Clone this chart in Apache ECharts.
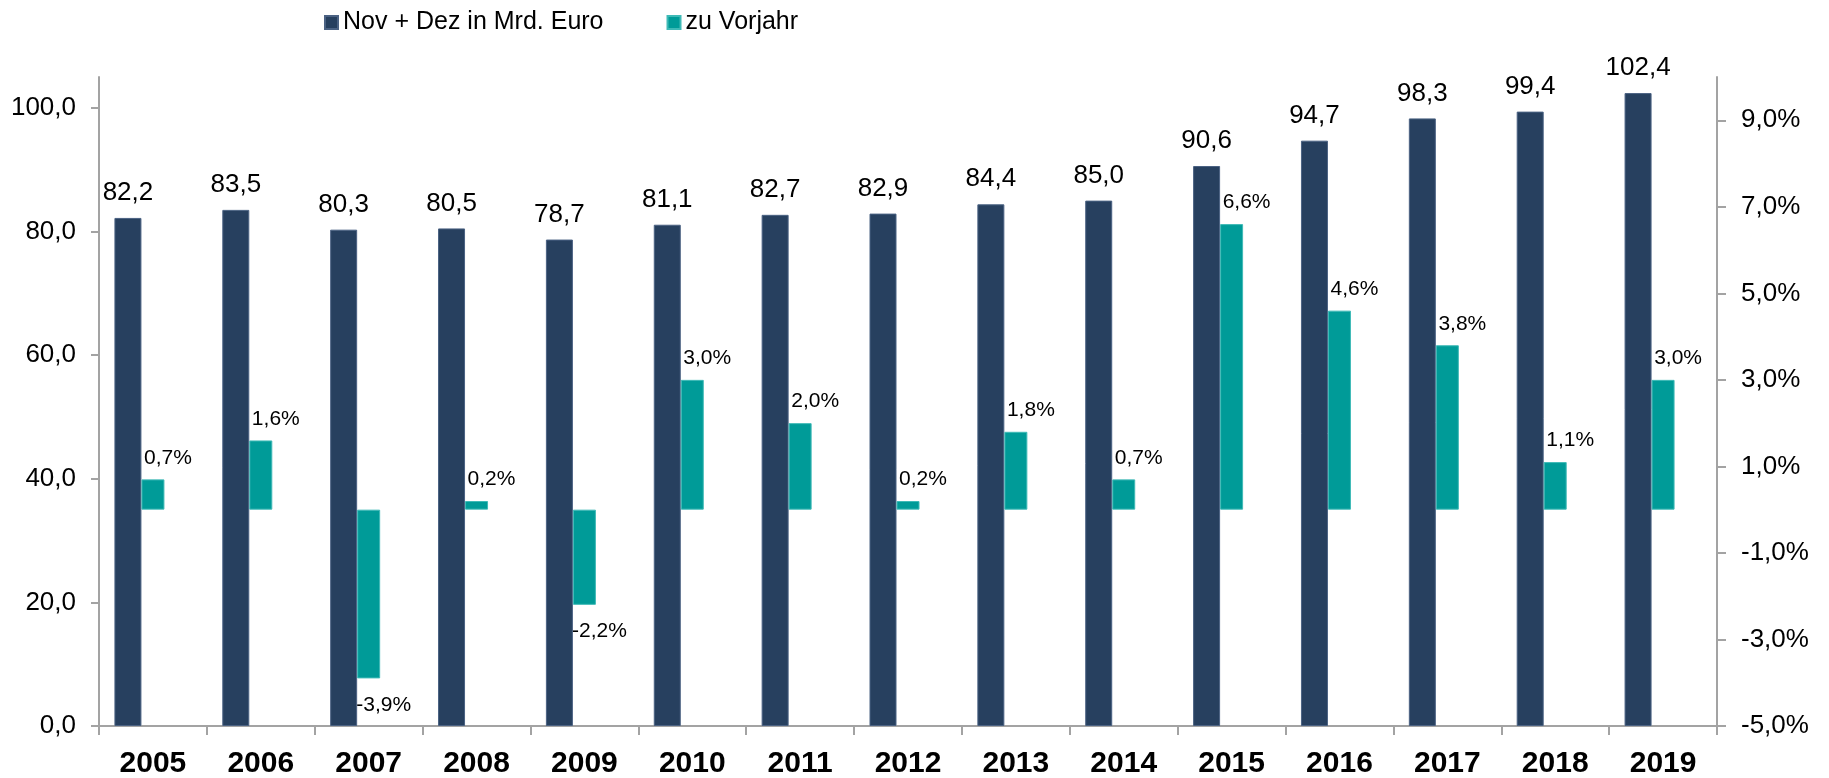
<!DOCTYPE html>
<html>
<head>
<meta charset="utf-8">
<script src="https://cdn.jsdelivr.net/npm/echarts@6/dist/echarts.min.js"></script>
<style>
  html, body { margin: 0; padding: 0; background: #fff; }
  #chart { width: 1829px; height: 778px; }
</style>
</head>
<body>
<div id="chart"></div>
<script>
// Jahre (x-Achse)
const years = ['2005', '2006', '2007', '2008', '2009', '2010', '2011', '2012',
               '2013', '2014', '2015', '2016', '2017', '2018', '2019'];
// Umsatz Nov + Dez in Mrd. Euro
const umsatz = [82.2, 83.5, 80.3, 80.5, 78.7, 81.1, 82.7, 82.9, 84.4, 85.0, 90.6, 94.7, 98.3, 99.4, 102.4];
// Veränderung zu Vorjahr in %
const vorjahr = [0.7, 1.6, -3.9, 0.2, -2.2, 3.0, 2.0, 0.2, 1.8, 0.7, 6.6, 4.6, 3.8, 1.1, 3.0];
// Achsenbeschriftungen
const leftTicks = [0, 20, 40, 60, 80, 100];
const rightTicks = [-5, -3, -1, 1, 3, 5, 7, 9];

const FONT = 'Liberation Sans, Arial, sans-serif';
const AXIS_COLOR = '#a3a3a3';
const DARK = '#27405f';
const TEAL = '#009b98';

const fmt = v => v.toFixed(1).replace('.', ',');

const chart = echarts.init(document.getElementById('chart'));

const option = {
    animation: false,
    textStyle: { fontFamily: FONT },
    legend: {
        left: 319,
        top: 5,
        itemGap: 63,
        itemWidth: 13,
        itemHeight: 13,
        icon: 'rect',
        data: ['Nov + Dez in Mrd. Euro', 'zu Vorjahr'],
        textStyle: { fontSize: 25, color: '#000', fontFamily: FONT }
    },
    grid: {
        left: 99,
        right: 112,
        top: 77,
        bottom: 52,
        outerBoundsMode: 'none'
    },
    xAxis: {
        type: 'category',
        data: years,
        axisLine: { lineStyle: { color: AXIS_COLOR, width: 2 } },
        axisTick: { show: true, interval: 0, length: 9, lineStyle: { color: AXIS_COLOR, width: 2 } },
        axisLabel: {
            interval: 0,
            margin: 23,
            fontSize: 30,
            fontWeight: 'bold',
            color: '#000',
            fontFamily: FONT
        }
    },
    yAxis: [
        {
            type: 'value',
            min: 0,
            max: 105,
            position: 'left',
            splitLine: { show: false },
            axisLine: { show: true, lineStyle: { color: AXIS_COLOR, width: 2 } },
            axisTick: { show: true, length: 8, customValues: leftTicks, lineStyle: { color: AXIS_COLOR, width: 2 } },
            axisLabel: {
                customValues: leftTicks,
                margin: 23,
                fontSize: 26,
                color: '#000',
                fontFamily: FONT,
                formatter: v => fmt(v)
            }
        },
        {
            type: 'value',
            min: -5,
            max: 10,
            position: 'right',
            splitLine: { show: false },
            axisLine: { show: true, lineStyle: { color: AXIS_COLOR, width: 2 } },
            axisTick: { show: true, length: 9, customValues: rightTicks, lineStyle: { color: AXIS_COLOR, width: 2 } },
            axisLabel: {
                customValues: rightTicks,
                margin: 24,
                fontSize: 26,
                color: '#000',
                fontFamily: FONT,
                formatter: v => fmt(v) + '%'
            }
        }
    ],
    series: [
        {
            name: 'Nov + Dez in Mrd. Euro',
            type: 'bar',
            yAxisIndex: 0,
            barWidth: 27,
            barGap: 0,
            data: umsatz,
            itemStyle: { color: DARK, borderColor: '#4b6283', borderWidth: 1 },
            label: {
                show: true,
                position: 'top',
                distance: 12,
                fontSize: 26,
                color: '#000',
                fontFamily: FONT,
                formatter: p => fmt(p.value)
            }
        },
        {
            name: 'zu Vorjahr',
            type: 'bar',
            yAxisIndex: 1,
            barWidth: 23,
            barGap: 0,
            data: vorjahr.map(v => ({
                value: v,
                label: { distance: v < 0 ? 16 : 11 }
            })),
            itemStyle: { color: TEAL, borderColor: '#3fbab7', borderWidth: 1 },
            label: {
                show: true,
                position: 'outside',
                offset: [15, 0],
                fontSize: 21,
                color: '#000',
                fontFamily: FONT,
                formatter: p => fmt(p.value) + '%'
            }
        },
        {
            // Platzhalter, damit die Balkengruppe wie im Original links versetzt sitzt
            name: 'platzhalter',
            type: 'bar',
            yAxisIndex: 0,
            barWidth: 27,
            barGap: 0,
            data: years.map(() => null),
            silent: true
        }
    ]
};

chart.setOption(option);
</script>
</body>
</html>
